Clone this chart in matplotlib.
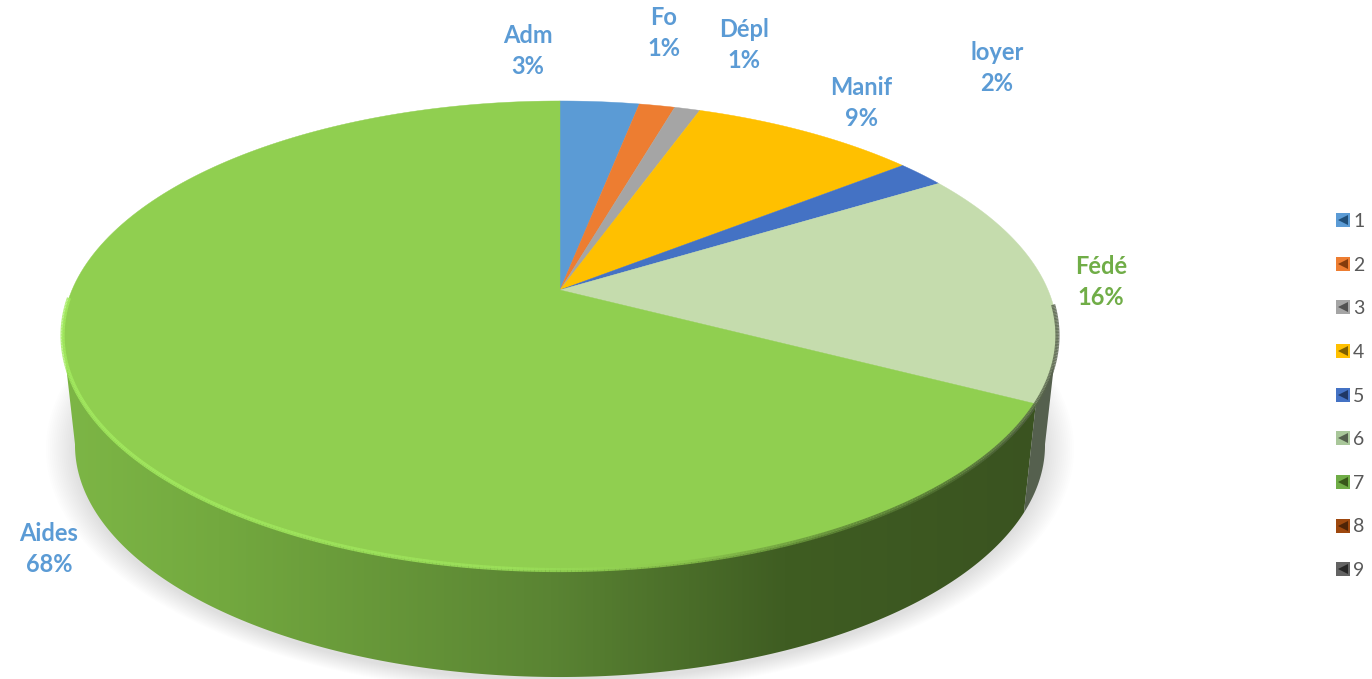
import numpy as np
import matplotlib
matplotlib.use("Agg")
import matplotlib.pyplot as plt
from matplotlib.collections import LineCollection
from matplotlib.colors import LinearSegmentedColormap
from matplotlib.legend_handler import HandlerTuple
from matplotlib.lines import Line2D
from matplotlib.patches import Polygon

plt.rcParams['font.family'] = ['Lato', 'DejaVu Sans']

# values, percent
names = ["Adm", "Fo", "Dépl", "Manif", "loyer", "Fédé", "Aides"]
values = [3.1, 1.4, 1.0, 8.9, 1.9, 16.3, 67.4]
shown = ["3%", "1%", "1%", "9%", "2%", "16%", "68%"]
colors = ["#5B9BD5", "#ED7D31", "#A5A5A5", "#FFC000", "#4472C4", "#C5DCAD", "#90CF50"]
label_colors = ["#5B9BD5"] * 5 + ["#70AD47", "#5B9BD5"]
label_xy = [(528, 51), (664, 33), (744, 45), (861, 103), (997, 68), (1101, 282), (49, 549)]
legend_labels = ["1", "2", "3", "4", "5", "6", "7", "8", "9"]
legend_colors = ["#5B9BD5", "#ED7D31", "#A5A5A5", "#FFC000", "#4472C4", "#A9C79A",
                 "#70AD47", "#9E480E", "#636363"]
legend_dark = ["#1F4E79", "#843C0C", "#525252", "#7F6000", "#203864", "#55604E",
               "#38571A", "#4F2407", "#262626"]

# perspective of the top face, in pixels
CX, CY = 560, 290
A, B, K = 225.7, 488, 0.194
RIM_CY, RIM_RY = 335.5, 234.5
BOT_CY, BOT_RY, BOT_SX = 445, 232, 0.975
LEFT_EDGE, RIGHT_EDGE = 259, 101  # where the wall silhouette leaves the rim


def rim(theta):
    # theta in degrees, clockwise from 12 o'clock
    t = np.radians(theta)
    u, v = np.sin(t), np.cos(t)
    w = 1 + K * v
    return CX + B * u / w, CY - A * v / w


def bottom(theta):
    x, y = rim(theta)
    return CX + (x - CX) * BOT_SX, BOT_CY + (y - RIM_CY) * BOT_RY / RIM_RY


def wall(t0, t1):
    th = np.linspace(t0, t1, 200)
    xa, ya = rim(th)
    xb, yb = bottom(th)
    return np.r_[np.c_[xa, ya], np.c_[xb, yb][::-1]]


fig = plt.figure(figsize=(13.72, 6.79), dpi=100)
ax = fig.add_axes([0, 0, 1, 1], frameon=False)
ax.axis("off")

angles = np.r_[0, np.cumsum(values)] / sum(values) * 360

# soft shadow under the pie
th = np.linspace(0, 360, 300)
sx, sy = bottom(th)
for grow in np.linspace(1.06, 1.0, 16):
    ax.add_patch(Polygon(np.c_[CX + (sx - CX) * grow, BOT_CY + 4 + (sy - BOT_CY) * grow],
                         fc="black", ec="none", alpha=0.009, zorder=1))

# side walls with a horizontal gradient
wall_cmap = LinearSegmentedColormap.from_list(
    "wall", [(0, "#7DB646"), (0.16, "#73A93F"), (0.5, "#5A8433"), (0.74, "#3F5D22"), (1, "#3A5320")])
grad = np.linspace(0, 1, 512)[None, :]
im = ax.imshow(grad, extent=(62, 1040, 679, 300), aspect="auto", cmap=wall_cmap, zorder=2)
clip = Polygon(wall(angles[6], LEFT_EDGE), transform=ax.transData, fc="none", ec="none")
ax.add_patch(clip)
im.set_clip_path(clip)
ax.add_patch(Polygon(wall(RIGHT_EDGE, angles[6]), fc="#55604E", ec="none", zorder=2))
ax.set_xlim(0, 1372)
ax.set_ylim(679, 0)

# top face slices
for i in range(len(values)):
    th = np.linspace(angles[i], angles[i + 1], 200)
    x, y = rim(th)
    ax.add_patch(Polygon(np.r_[[[CX, CY]], np.c_[x, y]], fc=colors[i], ec=colors[i],
                         lw=0.3, zorder=3))

# bevel along the rim: dark on the right, bright on the left
th = np.linspace(angles[5] + 35, 268, 500)
x, y = rim(th)
pts = np.c_[x, y]
segs = np.stack([pts[:-1], pts[1:]], axis=1)
bevel_cmap = LinearSegmentedColormap.from_list(
    "bevel", [(0, "#59634F"), (0.1, "#506E33"), (0.2, "#5D8436"), (0.38, "#8CC84C"),
              (0.55, "#9CE25A"), (1, "#A4EC60")])
lc = LineCollection(segs, cmap=bevel_cmap, linewidths=3, alpha=0.85, zorder=4)
lc.set_array((1058 - pts[:-1, 0]) / (1058 - 62))
ax.add_collection(lc)

# data labels
for name, pct, col, (lx, ly) in zip(names, shown, label_colors, label_xy):
    ax.text(lx, ly - 15.5, name, color=col, fontsize=17, fontweight="bold",
            ha="center", va="center", zorder=5)
    ax.text(lx, ly + 15.5, pct, color=col, fontsize=17, fontweight="bold",
            ha="center", va="center", zorder=5)

# legend, the little marks have a dark notch on their right side
handles = []
for c, d in zip(legend_colors, legend_dark):
    handles.append((Line2D([], [], ls="", marker="s", ms=9.5, mfc=c, mec=c, mew=0),
                    Line2D([], [], ls="", marker="<", ms=6.5, mfc=d, mec=d, mew=0)))
ax.legend(handles, legend_labels, handler_map={tuple: HandlerTuple(ndivide=1, pad=0)},
          loc="center left", bbox_to_anchor=(1334.5 / 1372, 1 - 396 / 679),
          frameon=False, fontsize=14, labelcolor="#595959", handlelength=0.9,
          handletextpad=0.05, labelspacing=1.37, borderpad=0, borderaxespad=0)

fig.savefig("out.png", dpi=100)
